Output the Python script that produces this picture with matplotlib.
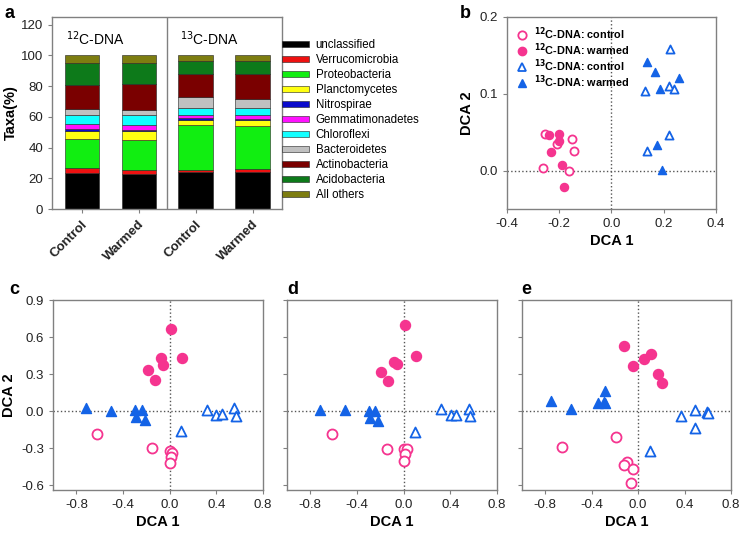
import matplotlib.pyplot as plt
from matplotlib.patches import Patch
from matplotlib.lines import Line2D

plt.rcParams['font.family'] = ['Liberation Sans', 'DejaVu Sans']
plt.rcParams['axes.edgecolor'] = '#808080'
plt.rcParams['xtick.color'] = '#808080'
plt.rcParams['ytick.color'] = '#808080'
plt.rcParams['xtick.labelcolor'] = '#222222'
plt.rcParams['ytick.labelcolor'] = '#222222'

#------------------DATA------------------#
groups = ['Control', 'Warmed', 'Control', 'Warmed']
taxa = ['unclassified', 'Verrucomicrobia', 'Proteobacteria', 'Planctomycetes', 'Nitrospirae',
        'Gemmatimonadetes', 'Chloroflexi', 'Bacteroidetes', 'Actinobacteria', 'Acidobacteria', 'All others']
taxa_colors = ['#000000', '#ee1111', '#11ee11', '#ffff11', '#0a0acc', '#ff11ff',
               '#11ffff', '#c0c0c0', '#7a0000', '#0d7a1a', '#7d7d10']
unclassified = [23.7, 22.9, 24.0, 24.4]
verrucomicrobia = [2.9, 2.6, 1.5, 1.5]
proteobacteria = [18.9, 19.6, 29.4, 28.3]
planctomycetes = [5.5, 5.4, 3.3, 3.8]
nitrospirae = [1.0, 1.1, 0.8, 0.8]
gemmatimonadetes = [3.1, 3.1, 2.4, 2.6]
chloroflexi = [6.1, 6.3, 4.4, 4.6]
bacteroidetes = [3.9, 3.3, 7.0, 5.9]
actinobacteria = [15.9, 17.2, 14.8, 15.9]
acidobacteria = [14.2, 13.7, 8.7, 8.5]
all_others = [4.8, 4.8, 3.7, 3.7]
taxa_values = [unclassified, verrucomicrobia, proteobacteria, planctomycetes, nitrospirae,
               gemmatimonadetes, chloroflexi, bacteroidetes, actinobacteria, acidobacteria, all_others]

# panel b (x, y) per series
b_c12_ctrl = [(-0.256, 0.048), (-0.209, 0.034), (-0.151, 0.041), (-0.144, 0.025), (-0.260, 0.004), (-0.161, 0.0)]
b_c12_warm = [(-0.239, 0.047), (-0.202, 0.048), (-0.202, 0.039), (-0.230, 0.024), (-0.189, 0.007), (-0.182, -0.021)]
b_c13_ctrl = [(0.223, 0.158), (0.130, 0.103), (0.219, 0.110), (0.241, 0.106), (0.221, 0.047), (0.138, 0.025)]
b_c13_warm = [(0.135, 0.141), (0.167, 0.128), (0.257, 0.121), (0.187, 0.106), (0.174, 0.033), (0.195, 0.001)]

# panel c
c_c12_ctrl = [(-0.62, -0.19), (-0.15, -0.30), (0.0, -0.32), (0.02, -0.34), (0.01, -0.37), (0.0, -0.42)]
c_c12_warm = [(0.014, 0.665), (-0.077, 0.432), (-0.057, 0.370), (0.109, 0.430), (-0.183, 0.335), (-0.129, 0.254)]
c_c13_ctrl = [(0.323, 0.011), (0.394, -0.03), (0.451, -0.024), (0.549, 0.027), (0.566, -0.038), (0.094, -0.16)]
c_c13_warm = [(-0.72, 0.027), (-0.506, 0.0), (-0.297, 0.005), (-0.24, 0.005), (-0.291, -0.05), (-0.211, -0.07)]

# panel d
d_c12_ctrl = [(-0.611, -0.186), (-0.14, -0.305), (0.0, -0.305), (0.029, -0.305), (0.014, -0.346), (0.0, -0.408)]
d_c12_warm = [(0.009, 0.697), (0.109, 0.449), (-0.086, 0.395), (-0.057, 0.381), (-0.191, 0.314), (-0.134, 0.246)]
d_c13_ctrl = [(0.323, 0.019), (0.406, -0.03), (0.451, -0.03), (0.557, 0.019), (0.566, -0.038), (0.094, -0.173)]
d_c13_warm = [(-0.72, 0.005), (-0.506, 0.005), (-0.294, 0.0), (-0.243, 0.0), (-0.291, -0.057), (-0.217, -0.078)]

# panel e
e_c12_ctrl = [(-0.654, -0.289), (-0.194, -0.211), (-0.097, -0.411), (-0.12, -0.438), (-0.043, -0.473), (-0.063, -0.584)]
e_c12_warm = [(-0.12, 0.53), (0.051, 0.42), (0.114, 0.462), (-0.046, 0.365), (0.174, 0.30), (0.203, 0.224)]
e_c13_ctrl = [(0.366, -0.038), (0.489, 0.005), (0.594, -0.011), (0.6, -0.016), (0.489, -0.14), (0.103, -0.327)]
e_c13_warm = [(-0.754, 0.084), (-0.577, 0.016), (-0.283, 0.162), (-0.349, 0.065), (-0.297, 0.07), (-0.286, 0.065)]

PINK = '#f5348f'
BLUE = '#1463e6'

#------------------FIGURE------------------#
fig = plt.figure(figsize=(7.4, 5.35), dpi=100)

def style(ax):
    ax.tick_params(direction='out', length=3, width=0.8, labelsize=9.5)
    for s in ax.spines.values():
        s.set_linewidth(1.0)

def scatter_set(ax, c12_ctrl, c12_warm, c13_ctrl, c13_warm, ms):
    ax.axhline(0, color='#555555', linestyle=':', linewidth=1, zorder=1)
    ax.axvline(0, color='#555555', linestyle=':', linewidth=1, zorder=1)
    ax.scatter([p[0] for p in c12_ctrl], [p[1] for p in c12_ctrl], s=ms, marker='o',
               facecolors='white', edgecolors=PINK, linewidths=1.3, zorder=3)
    ax.scatter([p[0] for p in c12_warm], [p[1] for p in c12_warm], s=ms, marker='o',
               color=PINK, zorder=3)
    ax.scatter([p[0] for p in c13_ctrl], [p[1] for p in c13_ctrl], s=ms, marker='^',
               facecolors='white', edgecolors=BLUE, linewidths=1.3, zorder=3)
    ax.scatter([p[0] for p in c13_warm], [p[1] for p in c13_warm], s=ms, marker='^',
               color=BLUE, zorder=3)

#------------------PANEL A------------------#
ax_a = fig.add_axes([0.0703, 0.6093, 0.311, 0.359])
xpos = range(len(groups))
bottom = [0, 0, 0, 0]
for name, vals, col in zip(taxa, taxa_values, taxa_colors):
    ax_a.bar(xpos, vals, width=0.6, bottom=bottom, color=col, edgecolor='#202020', linewidth=0.4)
    bottom = [b + v for b, v in zip(bottom, vals)]
ax_a.axvline(1.5, color='#808080', linewidth=1.0)
ax_a.set_xlim(-0.52, 3.52)
ax_a.set_ylim(0, 125)
ax_a.set_yticks([0, 20, 40, 60, 80, 100, 120])
ax_a.set_xticks(list(xpos))
ax_a.set_xticklabels(groups, rotation=45, ha='right', rotation_mode='anchor', fontweight='bold', fontsize=9)
ax_a.set_ylabel('Taxa(%)', fontweight='bold', fontsize=10.5, labelpad=2)
style(ax_a)
ax_a.text(0.06, 0.855, r'$^{12}$C-DNA', transform=ax_a.transAxes, fontsize=10)
ax_a.text(0.555, 0.855, r'$^{13}$C-DNA', transform=ax_a.transAxes, fontsize=10)
handles = [Patch(facecolor=c, edgecolor='#202020', linewidth=0.4) for c in taxa_colors]
ax_a.legend(handles, taxa, loc='upper left', bbox_to_anchor=(0.955, 0.94), frameon=False,
            fontsize=8.3, handlelength=2.3, handleheight=0.45, labelspacing=0.26, handletextpad=0.6)
fig.text(0.006, 0.975, 'a', fontsize=13, fontweight='bold', va='center')

#------------------PANEL B------------------#
ax_b = fig.add_axes([0.685, 0.6093, 0.2824, 0.359])
scatter_set(ax_b, b_c12_ctrl, b_c12_warm, b_c13_ctrl, b_c13_warm, 34)
ax_b.set_xlim(-0.4, 0.4)
ax_b.set_ylim(-0.05, 0.2)
ax_b.set_xticks([-0.4, -0.2, 0.0, 0.2, 0.4])
ax_b.set_yticks([0.0, 0.1, 0.2])
ax_b.set_xticklabels(['-0.4', '-0.2', '0.0', '0.2', '0.4'])
ax_b.set_yticklabels(['0.0', '0.1', '0.2'])
ax_b.set_xlabel('DCA 1', fontweight='bold', fontsize=10.5, labelpad=3)
ax_b.set_ylabel('DCA 2', fontweight='bold', fontsize=10.5, labelpad=4)
style(ax_b)
leg_items = [
    Line2D([], [], linestyle='none', marker='o', markersize=6, markerfacecolor='white', markeredgecolor=PINK, markeredgewidth=1.3),
    Line2D([], [], linestyle='none', marker='o', markersize=6, color=PINK),
    Line2D([], [], linestyle='none', marker='^', markersize=6, markerfacecolor='white', markeredgecolor=BLUE, markeredgewidth=1.3),
    Line2D([], [], linestyle='none', marker='^', markersize=6, color=BLUE),
]
leg_labels = [r'$^{\mathbf{12}}$C-DNA: control', r'$^{\mathbf{12}}$C-DNA: warmed',
              r'$^{\mathbf{13}}$C-DNA: control', r'$^{\mathbf{13}}$C-DNA: warmed']
leg = ax_b.legend(leg_items, leg_labels, loc='upper left', bbox_to_anchor=(0.0, 1.0), frameon=False,
                  fontsize=7.8, handlelength=1.2, labelspacing=-0.05, handletextpad=0.5, borderaxespad=0.4)
for t in leg.get_texts():
    t.set_fontweight('bold')
fig.text(0.622, 0.975, 'b', fontsize=13, fontweight='bold', va='center')

#------------------PANELS C D E------------------#
ax_c = fig.add_axes([0.0716, 0.0841, 0.2838, 0.3551])
ax_d = fig.add_axes([0.3878, 0.0841, 0.2838, 0.3551])
ax_e = fig.add_axes([0.7054, 0.0841, 0.2824, 0.3551])
panels = [(ax_c, c_c12_ctrl, c_c12_warm, c_c13_ctrl, c_c13_warm, 'c', 0.012),
          (ax_d, d_c12_ctrl, d_c12_warm, d_c13_ctrl, d_c13_warm, 'd', 0.388),
          (ax_e, e_c12_ctrl, e_c12_warm, e_c13_ctrl, e_c13_warm, 'e', 0.705)]
for ax, p1, p2, p3, p4, lab, lx in panels:
    scatter_set(ax, p1, p2, p3, p4, 52)
    ax.set_xlim(-1.0, 0.8)
    ax.set_ylim(-0.64, 0.9)
    ax.set_xticks([-0.8, -0.4, 0.0, 0.4, 0.8])
    ax.set_xticklabels(['-0.8', '-0.4', '0.0', '0.4', '0.8'])
    ax.set_yticks([-0.6, -0.3, 0.0, 0.3, 0.6, 0.9])
    ax.set_xlabel('DCA 1', fontweight='bold', fontsize=10.5, labelpad=3)
    style(ax)
    fig.text(lx, 0.458, lab, fontsize=13, fontweight='bold', va='center')
ax_c.set_yticklabels(['-0.6', '-0.3', '0.0', '0.3', '0.6', '0.9'])
ax_c.set_ylabel('DCA 2', fontweight='bold', fontsize=10.5, labelpad=4)
ax_d.set_yticklabels([])
ax_e.set_yticklabels([])

fig.savefig('out.png', dpi=100)
